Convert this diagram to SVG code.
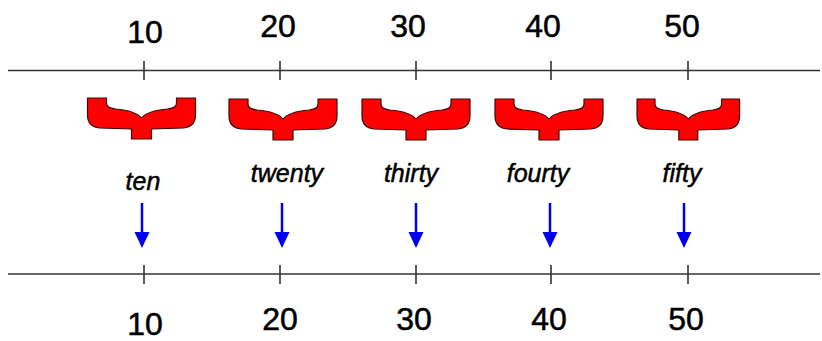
<svg xmlns="http://www.w3.org/2000/svg" width="822" height="341" viewBox="0 0 822 341">
<style>
.num{font-family:"Liberation Sans",Arial,sans-serif;font-size:32px;fill:#000;stroke:#000;stroke-width:0.5;text-anchor:middle}
.word{font-family:"Liberation Sans",Arial,sans-serif;font-size:25px;font-style:italic;fill:#000;stroke:#000;stroke-width:0.5;text-anchor:middle}
.axis{stroke:#333;stroke-width:1.6;fill:none}
.brace{fill:#ff0000;stroke:#3a0a0a;stroke-width:1.2;stroke-linejoin:round}
.arr{stroke:#0000ee;stroke-width:2.5;fill:none}
</style>
<defs>
<path id="brace" d="M0,0 H19 V5 C19,9 22,10 28,11 C40,12 50,15 54,20 C58,15 68,12 80,11 C86,10 89,9 89,5 V0 H108 V17 C108,25 104,29 96,30 L64,31 V41 H44 V31 L12,30 C4,29 0,25 0,17 Z"/>
</defs>
<g id="axes">
<line class="axis" x1="8" y1="70.5" x2="820" y2="70.5"/>
<line class="axis" x1="8" y1="274" x2="820" y2="274"/>
<path class="axis" d="M144,61V80 M280,61V80 M416,61V80 M551,61V80 M688,61V80"/>
<path class="axis" d="M144,265V284 M280,265V284 M416,265V284 M551,265V284 M688,265V284"/>
</g>
<g id="top-labels">
<text class="num" x="145" y="43">10</text>
<text class="num" x="278" y="37">20</text>
<text class="num" x="408" y="37">30</text>
<text class="num" x="543" y="37">40</text>
<text class="num" x="682" y="37">50</text>
</g>
<g id="bottom-labels">
<text class="num" x="145" y="335">10</text>
<text class="num" x="280" y="330">20</text>
<text class="num" x="414" y="330">30</text>
<text class="num" x="549" y="330">40</text>
<text class="num" x="686" y="330">50</text>
</g>
<g id="node-ten">
<use href="#brace" class="brace" transform="translate(87.5,98)"/>
<text class="word" x="143" y="190">ten</text>
</g>
<g id="node-twenty">
<use href="#brace" class="brace" transform="translate(229,99)"/>
<text class="word" x="287" y="182">twenty</text>
</g>
<g id="node-thirty">
<use href="#brace" class="brace" transform="translate(362,99)"/>
<text class="word" x="411" y="182">thirty</text>
</g>
<g id="node-fourty">
<use href="#brace" class="brace" transform="translate(495,99)"/>
<text class="word" x="538" y="182">fourty</text>
</g>
<g id="node-fifty">
<use href="#brace" class="brace" transform="translate(637,99) scale(0.95,1)"/>
<text class="word" x="682" y="182">fifty</text>
</g>
<g id="connectors">
<line class="arr" x1="142" y1="203" x2="142" y2="234"/>
<line class="arr" x1="282" y1="203" x2="282" y2="234"/>
<line class="arr" x1="416" y1="203" x2="416" y2="234"/>
<line class="arr" x1="550" y1="203" x2="550" y2="234"/>
<line class="arr" x1="684" y1="203" x2="684" y2="234"/>
<path d="M134.5,232 H149.5 L142,248 Z M274.5,232 H289.5 L282,248 Z M408.5,232 H423.5 L416,248 Z M542.5,232 H557.5 L550,248 Z M676.5,232 H691.5 L684,248 Z" fill="#0000ee"/>
</g>
</svg>
